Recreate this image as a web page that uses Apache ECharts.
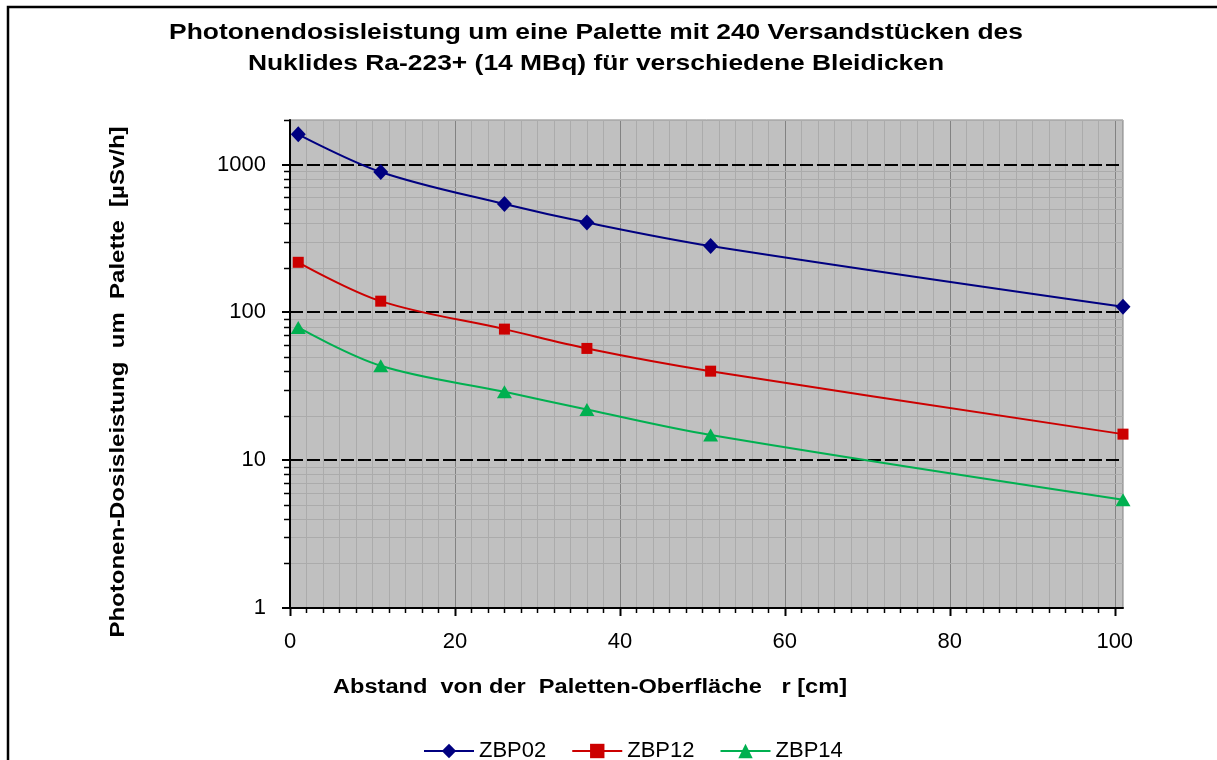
<!DOCTYPE html>
<html>
<head>
<meta charset="utf-8">
<script src="https://cdn.jsdelivr.net/npm/echarts@6/dist/echarts.min.js"></script>
<style>html,body{margin:0;padding:0;background:#fff}#c{width:1217px;height:760px}</style>
</head>
<body>
<div id="c"></div>
<script>
const distances = [1, 11, 26, 36, 51, 101];
const zbp02 = [1600, 890, 540, 405, 281, 109];
const zbp12 = [218, 119, 77, 57, 40, 15];
const zbp14 = [79, 43.5, 29, 22, 14.8, 5.4];
const seriesNames = ['ZBP02', 'ZBP12', 'ZBP14'];
const xTickLabels = [0, 20, 40, 60, 80, 100];
const yTickLabels = [1, 10, 100, 1000];
const titleLines = ['Photonendosisleistung um eine Palette mit 240 Versandstücken des', 'Nuklides Ra-223+ (14 MBq) für verschiedene Bleidicken'];
const xName = 'Abstand  von der  Paletten-Oberfläche   r [cm]';
const yName = 'Photonen-Dosisleistung  um  Palette  [µSv/h]';

const xMinor = [];
for (let v = 2; v < 101; v += 2) if (v % 20 !== 0) xMinor.push(v);
const yMinor = [];
[1, 10, 100, 1000].forEach(d => { for (let k = 2; k <= 9; k++) if (d * k <= 2000) yMinor.push(d * k); });
const yMajor = [10, 100, 1000];

const FONT = "'Liberation Sans', Arial, sans-serif";
const chart = echarts.init(document.getElementById('c'), null, {renderer: 'canvas'});

function pts(arr) { return distances.map((d, i) => [d, arr[i]]); }

chart.setOption({
  animation: false,
  backgroundColor: '#ffffff',
  grid: {
    left: 290, right: 94, top: 120, bottom: 152,
    show: true, backgroundColor: '#C0C0C0', borderColor: '#808080', borderWidth: 1
  },
  xAxis: {
    type: 'value', min: 0, max: 101, interval: 20, z: 5,
    axisLine: {show: true, onZero: false, lineStyle: {color: '#000', width: 2}},
    axisTick: {show: false},
    splitLine: {show: false},
    axisLabel: {
      margin: 23, fontFamily: FONT, fontSize: 22, color: '#000',
      formatter: v => (xTickLabels.indexOf(v) >= 0 ? String(v) : '')
    }
  },
  yAxis: {
    type: 'log', logBase: 10, min: 1, max: 2000, z: 5,
    axisLine: {show: true, onZero: false, lineStyle: {color: '#000', width: 2}},
    axisTick: {show: false},
    splitLine: {show: false},
    axisLabel: {
      margin: 24, fontFamily: FONT, fontSize: 22, color: '#000',
      formatter: v => {
        const m = yTickLabels.find(t => Math.abs(t - v) / t < 1e-6);
        return m !== undefined ? String(m) : '';
      }
    }
  },
  legend: {
    left: 418, top: 735, itemWidth: 50, itemHeight: 18, itemGap: 25,
    textStyle: {fontFamily: FONT, fontSize: 22, color: '#000'},
    data: seriesNames
  },
  graphic: [
    {type: 'rect', shape: {x: 8, y: 7, width: 1400, height: 1000}, style: {fill: 'none', stroke: '#000', lineWidth: 2.5}, z: 100},
    {type: 'text', x: 596, y: 33, scaleX: 1.2, style: {text: titleLines[0], font: "bold 22px " + FONT, fill: '#000', textAlign: 'center', textVerticalAlign: 'middle'}},
    {type: 'text', x: 596, y: 64, scaleX: 1.2, style: {text: titleLines[1], font: "bold 22px " + FONT, fill: '#000', textAlign: 'center', textVerticalAlign: 'middle'}},
    {type: 'text', x: 590, y: 687, scaleX: 1.18, style: {text: xName, font: "bold 20px " + FONT, fill: '#000', textAlign: 'center', textVerticalAlign: 'middle'}},
    {type: 'text', x: 118, y: 382, rotation: Math.PI / 2, scaleX: 1.2, style: {text: yName, font: "bold 20px " + FONT, fill: '#000', textAlign: 'center', textVerticalAlign: 'middle'}}
  ],
  series: [
    {
      type: 'custom', silent: true, z: 1, clip: false,
      data: [[1, 1]],
      renderItem: function (params, api) {
        const cs = params.coordSys;
        const L = cs.x, R = cs.x + cs.width, T = cs.y, B = cs.y + cs.height;
        const ch = [];
        xMinor.forEach(v => {
          const px = Math.round(api.coord([v, 1])[0]) + 0.5;
          ch.push({type: 'line', shape: {x1: px, y1: T, x2: px, y2: B}, style: {stroke: '#ABABAB', lineWidth: 1}});
          ch.push({type: 'line', shape: {x1: px, y1: B, x2: px, y2: B + 5}, style: {stroke: '#000', lineWidth: 1.5}});
        });
        xTickLabels.forEach(v => {
          const px = Math.round(api.coord([v, 1])[0]) + 0.5;
          if (v > 0) ch.push({type: 'line', shape: {x1: px, y1: T, x2: px, y2: B}, style: {stroke: '#828282', lineWidth: 1}});
          ch.push({type: 'line', shape: {x1: px, y1: B, x2: px, y2: B + 8}, style: {stroke: '#000', lineWidth: 2}});
        });
        yMinor.forEach(v => {
          const py = Math.round(api.coord([0, v])[1]) + 0.5;
          ch.push({type: 'line', shape: {x1: L, y1: py, x2: R, y2: py}, style: {stroke: '#ABABAB', lineWidth: 1}});
          ch.push({type: 'line', shape: {x1: L - 6, y1: py, x2: L, y2: py}, style: {stroke: '#000', lineWidth: 1.5}});
        });
        yMajor.forEach(v => {
          const py = Math.round(api.coord([0, v])[1]);
          ch.push({type: 'line', shape: {x1: L, y1: py, x2: R, y2: py}, style: {stroke: '#000', lineWidth: 2, lineDash: [13, 4]}});
          ch.push({type: 'line', shape: {x1: L - 8, y1: py, x2: L, y2: py}, style: {stroke: '#000', lineWidth: 2}});
        });
        {
          const py = Math.round(api.coord([0, 1])[1]);
          ch.push({type: 'line', shape: {x1: L - 8, y1: py, x2: L, y2: py}, style: {stroke: '#000', lineWidth: 2}});
        }
        return {type: 'group', children: ch};
      }
    },
    {
      name: seriesNames[0], type: 'line', data: pts(zbp02), smooth: 0.35, z: 3,
      symbol: 'diamond', symbolSize: [15, 16],
      lineStyle: {color: '#000080', width: 2}, itemStyle: {color: '#000080'}
    },
    {
      name: seriesNames[1], type: 'line', data: pts(zbp12), smooth: 0.35, z: 3,
      symbol: 'rect', symbolSize: 11,
      lineStyle: {color: '#CC0000', width: 2}, itemStyle: {color: '#CC0000'}
    },
    {
      name: seriesNames[2], type: 'line', data: pts(zbp14), smooth: 0.35, z: 3,
      symbol: 'triangle', symbolSize: [15, 13],
      lineStyle: {color: '#00B050', width: 2}, itemStyle: {color: '#00B050'}
    }
  ]
});
</script>
</body>
</html>
